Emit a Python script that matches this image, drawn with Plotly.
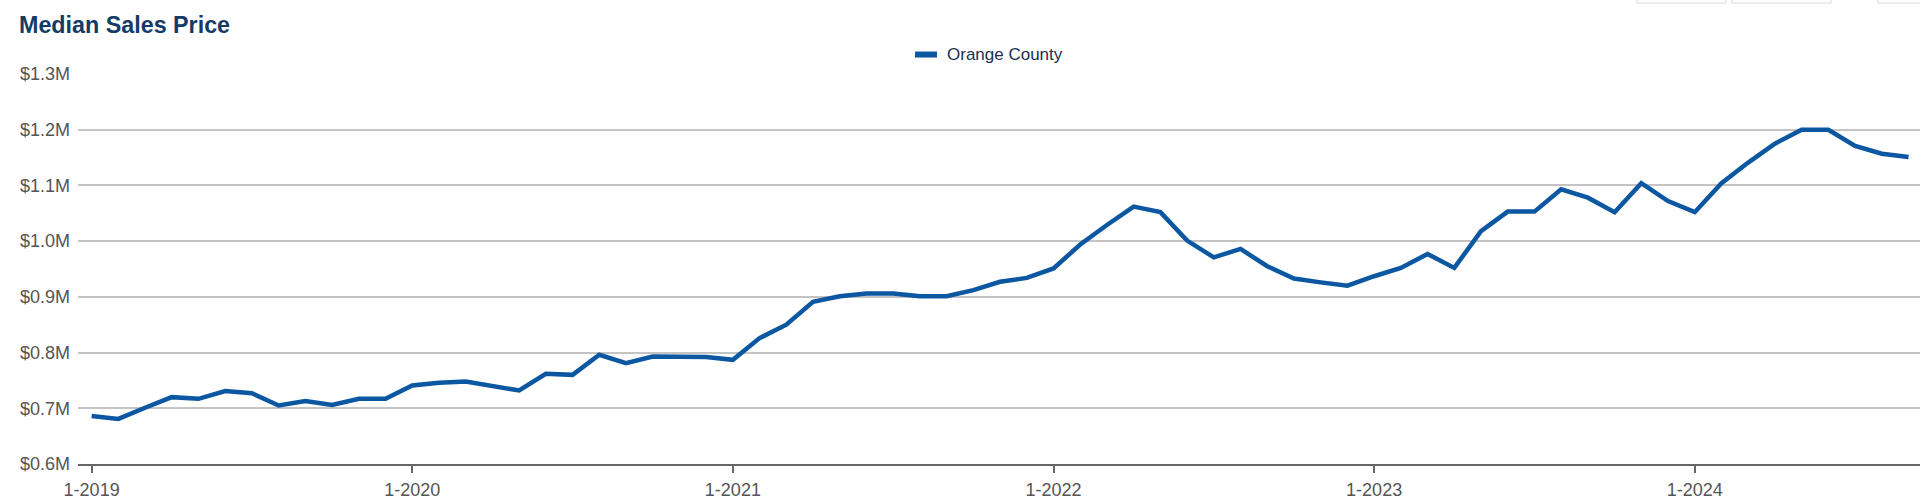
import plotly.graph_objects as go

# ---------------- data ----------------
years = [2019, 2020, 2021, 2022, 2023, 2024]
months = [f"{m}-{y}" for y in years for m in range(1, 13)][:69]  # 1-2019 .. 9-2024

median_price = [
    # 2019
    686000, 681000, 701000, 720000, 717000, 731000, 727000, 705000, 713000, 706000, 717000, 717000,
    # 2020
    741000, 746000, 748000, 741000, 732000, 762000, 760000, 796000, 781000, 793000, 792000, 792000,
    # 2021
    787000, 826000, 850000, 891000, 901000, 906000, 906000, 901000, 901000, 912000, 927000, 934000,
    # 2022
    951000, 994000, 1029000, 1062000, 1052000, 1001000, 971000, 986000, 955000, 933000, 926000, 920000,
    # 2023
    937000, 952000, 977000, 952000, 1018000, 1053000, 1053000, 1093000, 1078000, 1052000, 1104000, 1072000,
    # 2024
    1052000, 1104000, 1141000, 1175000, 1200000, 1200000, 1171000, 1157000, 1151000,
]

series_name = "Orange County"
x_tick_vals = [f"1-{y}" for y in years]
y_tick_vals = [600000, 700000, 800000, 900000, 1000000, 1100000, 1200000, 1300000]
y_tick_text = ["$0.6M", "$0.7M", "$0.8M", "$0.9M", "$1.0M", "$1.1M", "$1.2M", "$1.3M"]

# ---------------- layout geometry (pixels) ----------------
W, H = 1920, 499
ML, MR, MT, MB = 78, 0, 73.5, 35
PW, PH = W - ML - MR, H - MT - MB

def px_x(px):
    return (px - ML) / PW

def px_y(py):
    return (H - MB - py) / PH

FONT = "Arial, Liberation Sans, sans-serif"
LINE_COLOR = "#0b57a1"

fig = go.Figure()
fig.add_trace(go.Scatter(
    x=months, y=median_price, mode="lines", name=series_name,
    line=dict(color=LINE_COLOR, width=4.5), showlegend=False,
    hovertemplate="%{x}: %{y:$,.0f}<extra></extra>",
))

shapes = [
    # legend swatch
    dict(type="line", xref="paper", yref="paper",
         x0=px_x(915), x1=px_x(937), y0=px_y(54), y1=px_y(54),
         line=dict(color=LINE_COLOR, width=6)),
]
# faint buttons peeking at the top-right
for x0, x1 in [(1637, 1726), (1732, 1831), (1878, 1935)]:
    shapes.append(dict(type="rect", xref="paper", yref="paper",
                       x0=px_x(x0), x1=px_x(x1), y0=px_y(2.5), y1=px_y(-12),
                       line=dict(color="#d9d9d9", width=1), fillcolor="rgba(0,0,0,0)"))

annotations = [
    dict(text=series_name, xref="paper", yref="paper", x=px_x(945), y=px_y(54),
         xanchor="left", yanchor="middle", showarrow=False,
         font=dict(family=FONT, size=17, color="#1c2f52")),
]

fig.update_layout(
    width=W, height=H,
    margin=dict(l=ML, r=MR, t=MT, b=MB, pad=0),
    paper_bgcolor="white", plot_bgcolor="white",
    title=dict(text="Median Sales Price", x=19 / W, xref="container", xanchor="left",
               y=1 - 25 / H, yref="container", yanchor="middle",
               font=dict(family=FONT, size=23.3, color="#143a66", weight="bold")),
    font=dict(family=FONT, size=18, color="#555555"),
    shapes=shapes, annotations=annotations,
    showlegend=False,
    xaxis=dict(
        type="category", range=[-0.51, 68.43],
        tickmode="array", tickvals=x_tick_vals, ticktext=x_tick_vals,
        showgrid=False, zeroline=False,
        showline=True, linecolor="#666666", linewidth=2,
        ticks="outside", ticklen=7, tickwidth=2, tickcolor="#666666",
        tickfont=dict(family=FONT, size=18, color="#555555"),
        ticklabelstandoff=1,
    ),
    yaxis=dict(
        range=[600000, 1300000],
        tickmode="array", tickvals=y_tick_vals, ticktext=y_tick_text,
        showgrid=True, gridcolor="#c4c4c4", gridwidth=1.5,
        zeroline=False, showline=False, ticks="",
        tickfont=dict(family=FONT, size=18, color="#555555"),
        ticklabelstandoff=7,
    ),
)

fig.write_html(
    "out.html",
    config={"displayModeBar": False},
    post_script="document.body.style.margin='0';document.body.style.overflow='hidden';",
)
